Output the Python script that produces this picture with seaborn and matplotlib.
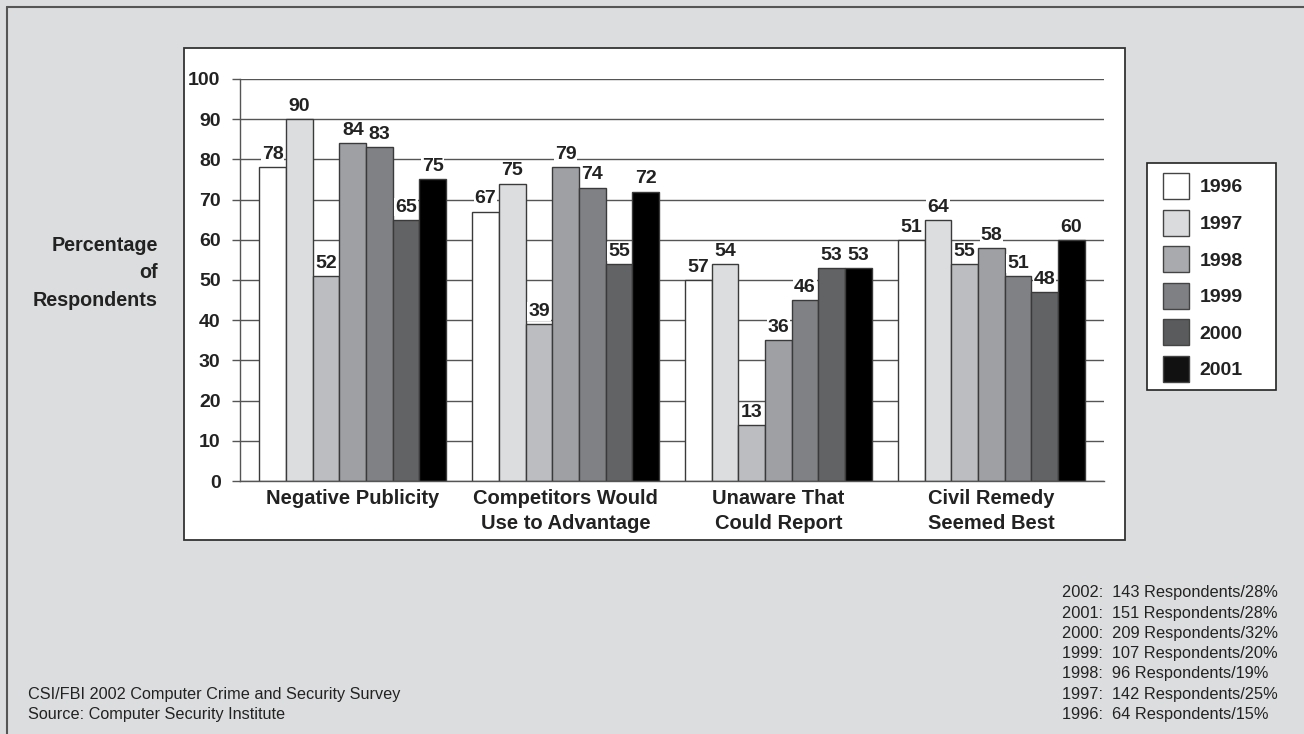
import seaborn as sns
import matplotlib.pyplot as plt
import pandas as pd
from matplotlib.patches import Patch, Rectangle
from matplotlib.lines import Line2D

# categories on the x axis
categories = [
    'Negative Publicity',
    'Competitors Would\nUse to Advantage',
    'Unaware That\nCould Report',
    'Civil Remedy\nSeemed Best',
]

# bar heights as drawn (7 bars per group)
negative_publicity = [78, 90, 51, 84, 83, 65, 75]
competitors_advantage = [67, 74, 39, 78, 73, 54, 72]
unaware_report = [50, 54, 14, 35, 45, 53, 53]
civil_remedy = [60, 65, 54, 58, 51, 47, 60]

# value labels printed above the bars
negative_publicity_lbl = [78, 90, 52, 84, 83, 65, 75]
competitors_advantage_lbl = [67, 75, 39, 79, 74, 55, 72]
unaware_report_lbl = [57, 54, 13, 36, 46, 53, 53]
civil_remedy_lbl = [51, 64, 55, 58, 51, 48, 60]

bar_ids = ['b1', 'b2', 'b3', 'b4', 'b5', 'b6', 'b7']
bar_colors = ['#ffffff', '#dcdddf', '#bcbdc0', '#9fa0a4', '#808185', '#626365', '#000000']

legend_years = ['1996', '1997', '1998', '1999', '2000', '2001']
legend_colors = ['#ffffff', '#dadbdd', '#a9aaad', '#7f8084', '#5a5b5d', '#111111']

respondent_notes = [
    '2002:  143 Respondents/28%',
    '2001:  151 Respondents/28%',
    '2000:  209 Respondents/32%',
    '1999:  107 Respondents/20%',
    '1998:  96 Respondents/19%',
    '1997:  142 Respondents/25%',
    '1996:  64 Respondents/15%',
]
source_lines = [
    'CSI/FBI 2002 Computer Crime and Security Survey',
    'Source: Computer Security Institute',
]

W, H = 1304, 734
BG = '#dcdddf'
EDGE = '#555555'
TXT = '#222222'


def fx(x):
    return x / W


def fy(y):
    return 1 - y / H


heights = [negative_publicity, competitors_advantage, unaware_report, civil_remedy]
labels = [negative_publicity_lbl, competitors_advantage_lbl, unaware_report_lbl, civil_remedy_lbl]

df = pd.DataFrame(
    [(cat, bid, h) for cat, vals in zip(categories, heights) for bid, h in zip(bar_ids, vals)],
    columns=['category', 'bar', 'value'],
)

sns.set_theme(style='white')
plt.rcParams['font.family'] = ['Liberation Sans', 'DejaVu Sans']

fig = plt.figure(figsize=(W / 100, H / 100), dpi=100)
fig.patch.set_facecolor(BG)

# outer frame (top and left edges visible)
fig.add_artist(Line2D([fx(7), fx(W)], [fy(7), fy(7)], color=EDGE, lw=1.5))
fig.add_artist(Line2D([fx(7), fx(7)], [fy(7), fy(H)], color=EDGE, lw=1.5))

# white chart panel
fig.add_artist(Rectangle((fx(184), fy(540)), fx(1125) - fx(184), fy(48) - fy(540),
                         facecolor='white', edgecolor='#333333', lw=1.3, zorder=0))

ax = fig.add_axes([fx(240), fy(481), fx(1104) - fx(240), fy(79) - fy(481)])
ax.set_facecolor('white')
ax.set_axisbelow(True)

sns.barplot(
    data=df
    , x='category'
    , y='value'
    , hue='bar'
    , hue_order=bar_ids
    , order=categories
    , palette=bar_colors
    , width=0.877
    , saturation=1
    , edgecolor='#3a3a3a'
    , linewidth=1
    , legend=False
    , ax=ax
)

for i, cont in enumerate(ax.containers):
    txts = ax.bar_label(cont, labels=[str(lbl[i]) for lbl in labels], padding=3,
                        fontsize=14, fontweight='bold', color=TXT)
    for t in txts:
        t.set_bbox(dict(facecolor='white', edgecolor='none', pad=0.6))

ax.set_xlim(-0.53, 3.53)
ax.set_ylim(0, 100)
ax.set_yticks(range(0, 101, 10))
ax.yaxis.grid(True, color='#555555', lw=1)
ax.xaxis.grid(False)
ax.set_xlabel('')
ax.set_ylabel('')

for s in ['top', 'right']:
    ax.spines[s].set_visible(False)
ax.spines['left'].set_color(EDGE)
ax.spines['bottom'].set_color(EDGE)
ax.spines['left'].set_linewidth(1)
ax.spines['bottom'].set_linewidth(1)

ax.tick_params(axis='y', left=True, length=6, width=1, color=EDGE, pad=8,
               labelsize=14, labelcolor=TXT)
ax.tick_params(axis='x', bottom=False, length=0, pad=6, labelsize=14.5, labelcolor=TXT)
for t in ax.get_yticklabels():
    t.set_fontweight('bold')
for t in ax.get_xticklabels():
    t.set_fontweight('bold')
    t.set_linespacing(1.35)

# y-axis title
fig.text(fx(158), fy(273), 'Percentage\nof\nRespondents', ha='right', va='center',
         multialignment='right', fontsize=14.2, fontweight='bold', color=TXT,
         linespacing=1.58)

# legend: frame drawn separately, entries from the legend
fig.add_artist(Rectangle((fx(1147), fy(390)), fx(1276) - fx(1147), fy(163) - fy(390),
                         facecolor='white', edgecolor='#222222', lw=1.2))
handles = [Patch(facecolor=c, edgecolor='#444444', lw=1) for c in legend_colors]
leg = fig.legend(handles, legend_years, loc='upper left',
                 bbox_to_anchor=(fx(1163), fy(173)),
                 frameon=False,
                 handlelength=1.34, handleheight=1.68, labelspacing=0.545,
                 handletextpad=0.55, borderpad=0, borderaxespad=0,
                 prop={'weight': 'bold', 'size': 14})
for t in leg.get_texts():
    t.set_color(TXT)

# respondent counts
for i, line in enumerate(respondent_notes):
    fig.text(fx(1062), fy(593 + i * 20.2), line, ha='left', va='center',
             fontsize=11.8, color=TXT)

# source
for i, line in enumerate(source_lines):
    fig.text(fx(28), fy(694 + i * 20), line, ha='left', va='center',
             fontsize=11.7, color=TXT)

fig.savefig('out.png', dpi=100, facecolor=BG)
